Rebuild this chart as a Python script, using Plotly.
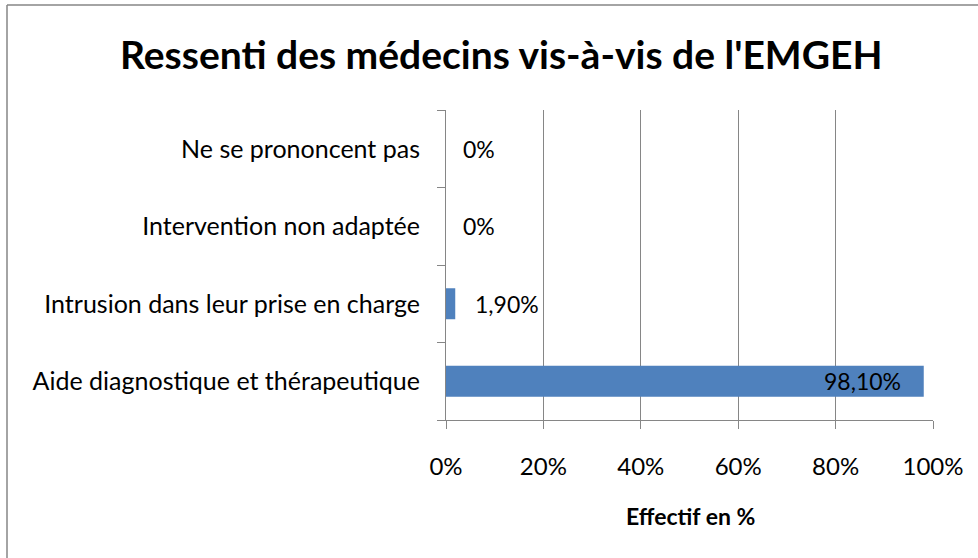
import plotly.graph_objects as go

categories = ["Aide diagnostique et thérapeutique", "Intrusion dans leur prise en charge",
              "Intervention non adaptée", "Ne se prononcent pas"]
values = [98.1, 1.9, 0, 0]
labels = ["98,10%", "1,90%", "0%", "0%"]
xticks = [0, 20, 40, 60, 80, 100]
xticklabels = ["0%", "20%", "40%", "60%", "80%", "100%"]

W, H = 978, 558
L, R, T, B = 446, 45, 110, 138
pw, ph = W - L - R, H - T - B

FONT = "Lato, 'Open Sans', sans-serif"
GRAY = "#868686"
FS = 24

fig = go.Figure(go.Bar(
    x=values, y=categories, orientation="h",
    marker=dict(color="#4F81BD", line=dict(width=0)),
    hoverinfo="skip",
))

annotations = []
for v, c, t in zip(values, categories, labels):
    if v > 50:
        annotations.append(dict(x=v, y=c, text=t, xref="x", yref="y", showarrow=False,
                                xanchor="right", xshift=-21, font=dict(size=23, color="black", family=FONT)))
    else:
        annotations.append(dict(x=v, y=c, text=t, xref="x", yref="y", showarrow=False,
                                xanchor="left", xshift=15 if v == 0 else 18,
                                font=dict(size=23, color="black", family=FONT)))

annotations.append(dict(text="<b>Ressenti des médecins vis-à-vis de l'EMGEH</b>", xref="paper", yref="paper",
                        x=(501 - L) / pw, y=(H - B - 54) / ph, xanchor="center", yanchor="middle",
                        showarrow=False, font=dict(size=39, color="black", family=FONT)))
annotations.append(dict(text="<b>Effectif en %</b>", xref="paper", yref="paper",
                        x=(690 - L) / pw, y=(H - B - 516) / ph, xanchor="center", yanchor="middle",
                        showarrow=False, font=dict(size=23, color="black", family=FONT)))

shapes = [
    dict(type="line", xref="paper", yref="paper", x0=(7 - L) / pw, x1=(7 - L) / pw,
         y0=(H - B - 5) / ph, y1=(H - B - 600) / ph, line=dict(color=GRAY, width=1.5)),
    dict(type="line", xref="paper", yref="paper", x0=(7 - L) / pw, x1=(1000 - L) / pw,
         y0=(H - B - 5) / ph, y1=(H - B - 5) / ph, line=dict(color=GRAY, width=1.5)),
]

fig.update_layout(
    width=W, height=H,
    margin=dict(l=L, r=R, t=T, b=B, pad=0),
    paper_bgcolor="white", plot_bgcolor="white",
    showlegend=False, bargap=0.6,
    font=dict(family=FONT, size=FS, color="black"),
    annotations=annotations, shapes=shapes,
    xaxis=dict(range=[0, 100], tickvals=xticks, ticktext=xticklabels,
               showgrid=True, gridcolor=GRAY, gridwidth=1,
               showline=True, linecolor=GRAY, linewidth=1,
               ticks="outside", ticklen=8, tickcolor=GRAY, ticklabelstandoff=17,
               zeroline=False, fixedrange=True, tickfont=dict(size=24)),
    yaxis=dict(categoryorder="array", categoryarray=categories,
               showline=True, linecolor=GRAY, linewidth=1, showgrid=False,
               ticks="outside", ticklen=8, tickcolor=GRAY, tickson="boundaries",
               ticklabelstandoff=20, fixedrange=True, tickfont=dict(size=25)),
)

fig.write_html("out.html", config={"displayModeBar": False},
               post_script="document.body.style.margin='0';document.body.style.padding='0';")
